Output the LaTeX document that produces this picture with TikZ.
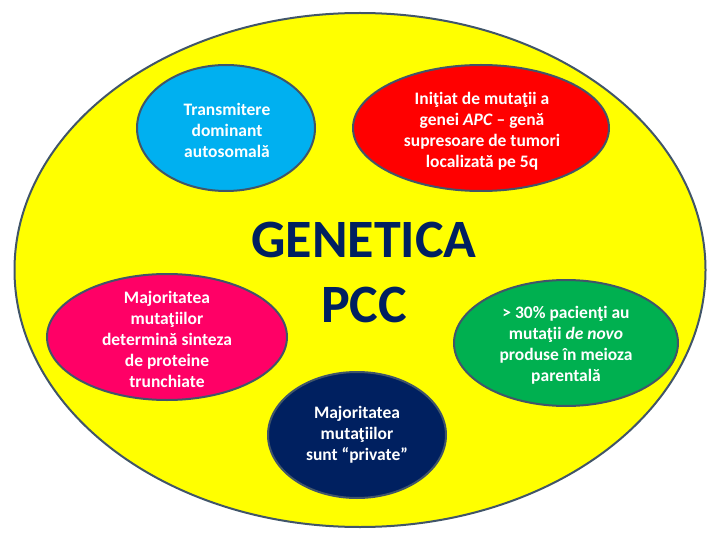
\documentclass[tikz,border=0pt]{standalone}
\usepackage{fontspec}
\setmainfont{Carlito}
\usetikzlibrary{shapes.geometric}
\definecolor{cyel}{RGB}{255,255,0}
\definecolor{cblue}{RGB}{0,176,240}
\definecolor{cred}{RGB}{255,0,0}
\definecolor{cpink}{RGB}{255,0,102}
\definecolor{cgreen}{RGB}{0,176,80}
\definecolor{cnavy}{RGB}{0,32,96}
\definecolor{edge}{RGB}{65,85,105}
\begin{document}
\begin{tikzpicture}[x=1pt,y=-1pt,
  bubble/.style={ellipse, draw=edge, line width=2pt, inner sep=0pt},
  txt/.style={text=white, font=\bfseries\fontsize{17.5}{21}\selectfont, align=center, inner sep=0pt}]
\useasboundingbox (0,0) rectangle (720,540);
\fill[white] (0,0) rectangle (720,540);
\node[bubble, fill=cyel, minimum width=691pt, minimum height=514pt] (big) at (360,270) {};
\node[bubble, fill=cblue, minimum width=178pt, minimum height=126pt] (blue) at (226,128) {};
\node[bubble, fill=cred, minimum width=256pt, minimum height=126pt] (red) at (481,128) {};
\node[bubble, fill=cpink, minimum width=240pt, minimum height=126pt] (pink) at (167,337) {};
\node[bubble, fill=cgreen, minimum width=224pt, minimum height=126pt] (green) at (566,343) {};
\node[bubble, fill=cnavy, minimum width=178pt, minimum height=126pt] (navy) at (357,435) {};
\node[txt] (tblue) at (227,130) {Transmitere\\dominant\\autosomală};
\node[txt] (tred) at (482,131) {Iniţiat de mutaţii a\\genei \textit{APC} – genă\\supresoare de tumori\\localizată pe 5q};
\node[txt] (tpink) at (167,339) {Majoritatea\\mutaţiilor\\determină sinteza\\de proteine\\trunchiate};
\node[txt] (tgreen) at (566,345) {> 30\% pacienţi au\\mutaţii \textit{de novo}\\produse în meioza\\parentală};
\node[txt] (tnavy) at (357,435) {Majoritatea\\mutaţiilor\\sunt “private”};
\node[text=cnavy, font=\bfseries\fontsize{54}{65}\selectfont, align=center, inner sep=0pt] (title) at (364,272) {GENETICA\\PCC};
\end{tikzpicture}
\end{document}
